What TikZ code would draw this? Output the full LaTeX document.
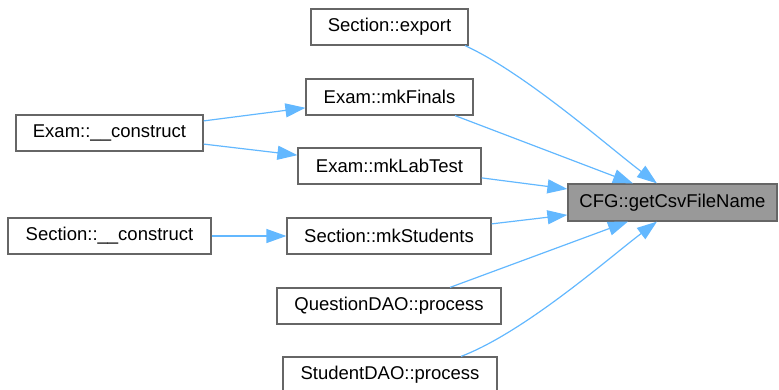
\documentclass[tikz,border=0pt]{standalone}
\usepackage{fontspec}
\setmainfont{Liberation Sans}
\usetikzlibrary{arrows.meta}
\definecolor{edgeblue}{HTML}{63B8FF}
\definecolor{boxline}{HTML}{666666}
\definecolor{boxhl}{HTML}{999999}
\tikzset{
  fn/.style={draw=boxline, line width=1.2pt, fill=white, inner sep=0pt,
    minimum height=36pt, font=\fontsize{18.5}{22}\selectfont, text=black},
  target/.style={fn, fill=boxhl, minimum height=37pt},
  call/.style={draw=edgeblue, line width=1.2pt,
    -{Triangle[length=20pt,width=14pt]}},
}
\begin{document}
\begin{tikzpicture}[x=1pt,y=-1pt]
\useasboundingbox (0,0) rectangle (779,389);

% callers of the target function
\node[fn, minimum width=157pt] (export)   at (389.5,27)  {Section::export};
\node[fn, minimum width=167pt] (finals)   at (389.5,97)  {Exam::mkFinals};
\node[fn, minimum width=187pt] (examc)    at (109.5,133) {Exam::\_\_construct};
\node[fn, minimum width=183pt] (labtest)  at (389.5,166) {Exam::mkLabTest};
\node[target, minimum width=209pt] (cfg)  at (672.5,202.5) {CFG::getCsvFileName};
\node[fn, minimum width=203pt] (sectc)    at (109.5,236) {Section::\_\_construct};
\node[fn, minimum width=204pt] (students) at (389,236)   {Section::mkStudents};
\node[fn, minimum width=224pt] (qdao)     at (389,306)   {QuestionDAO::process};
\node[fn, minimum width=214pt] (sdao)     at (390,375)   {StudentDAO::process};

% call edges
\draw[call] (examc) -- (finals);
\draw[call] (examc) -- (labtest);
\draw[call] (sectc) -- (students);

\draw[call] ([xshift=75.5pt]export.south) .. controls (525,73) and (610,148) .. ([xshift=-15.5pt]cfg.north);
\draw[call] ([xshift=65.5pt]finals.south) -- ([xshift=-39.5pt]cfg.north);
\draw[call] (labtest) -- (cfg);
\draw[call] (students) -- (cfg);
\draw[call] ([xshift=61pt]qdao.north) -- ([xshift=-44.5pt]cfg.south);
\draw[call] ([xshift=71pt]sdao.north) .. controls (525,332) and (610,257) .. ([xshift=-15.5pt]cfg.south);
\end{tikzpicture}
\end{document}
